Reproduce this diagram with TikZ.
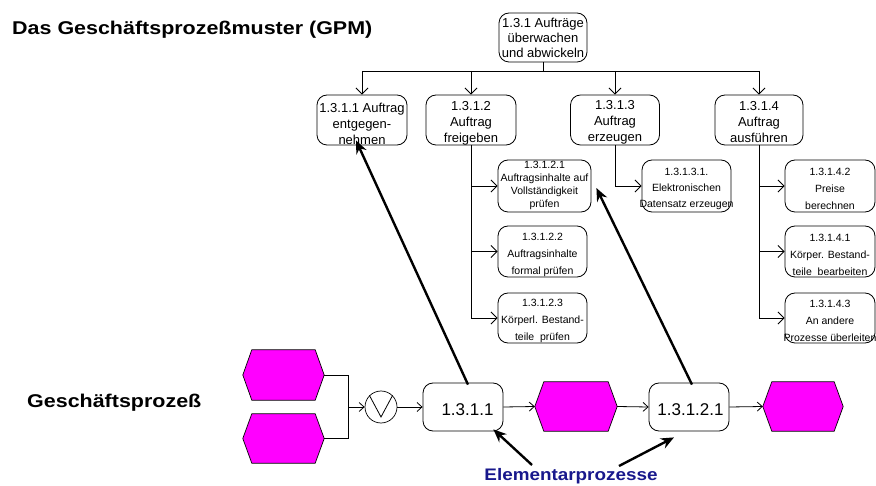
\documentclass[tikz,border=0pt]{standalone}
\usepackage{fontspec}
\setmainfont{Liberation Sans}
\newfontfamily\widesans[FakeStretch=1.16]{Liberation Sans}
\newfontfamily\widersans[FakeStretch=1.13]{Liberation Sans}
\usetikzlibrary{arrows.meta}
\definecolor{hexmagenta}{RGB}{255,0,255}
\definecolor{elemblue}{RGB}{24,24,140}

% elongated hexagon drawn over the anchors of an invisible node
\newcommand\drawhex[1]{%
  \filldraw[fill=hexmagenta, draw=black, line width=0.7pt]
    (#1.west) -- ([xshift=9pt]#1.north west) -- ([xshift=-9pt]#1.north east)
    -- (#1.east) -- ([xshift=-9pt]#1.south east) -- ([xshift=9pt]#1.south west) -- cycle;}

\tikzset{
  procbox/.style={draw=black, fill=white, rounded corners=10pt, line width=0.8pt, inner sep=0pt},
  maintxt/.style={font=\fontsize{13}{16}\selectfont, align=center, inner sep=0pt},
  subtxt/.style={font=\fontsize{10.5}{17}\selectfont, align=center, inner sep=0pt},
  bigtxt/.style={font=\fontsize{17}{20}\selectfont, inner sep=0pt},
  hexnode/.style={minimum width=81pt, minimum height=49pt, inner sep=0pt},
  tree/.style={line width=0.9pt},
  treearrow/.style={tree, -{Straight Barb[length=6pt,width=12pt]}},
  flow/.style={line width=0.8pt, draw=black},
  flowarrow/.style={flow, -{Straight Barb[length=5pt,width=9pt]}},
  bigarrow/.style={line width=2.4pt, -{Stealth[length=13pt,width=11pt]}},
  heading/.style={font=\widesans\bfseries\fontsize{18.5}{22}\selectfont, inner sep=0pt, anchor=base west},
}

\begin{document}
\begin{tikzpicture}[x=1pt, y=-1pt]
\useasboundingbox (0,0) rectangle (876,486);

% headings
\node[heading] (title) at (12,35) {Das Geschäftsprozeßmuster (GPM)};
\node[heading] (gp) at (27,407) {Geschäftsprozeß};

% process tree
\node[procbox, minimum width=88pt, minimum height=49pt] (top) at (543,37.5) {};
\node[procbox, minimum width=90pt, minimum height=50pt] (c1) at (362,120) {};
\node[procbox, minimum width=90pt, minimum height=50pt] (c2) at (471,120) {};
\node[procbox, minimum width=89pt, minimum height=50pt] (c3) at (615,120) {};
\node[procbox, minimum width=88pt, minimum height=50pt] (c4) at (759,120) {};

\node[procbox, minimum width=93pt, minimum height=52pt] (s21) at (544.5,186) {};
\node[procbox, minimum width=89pt, minimum height=51pt] (s22) at (542.5,251.5) {};
\node[procbox, minimum width=89pt, minimum height=50pt] (s23) at (542.5,318) {};
\node[procbox, minimum width=89pt, minimum height=52pt] (s31) at (686.5,186) {};
\node[procbox, minimum width=90pt, minimum height=52pt] (s42) at (830,186) {};
\node[procbox, minimum width=90pt, minimum height=51pt] (s41) at (830,251.5) {};
\node[procbox, minimum width=90pt, minimum height=50pt] (s43) at (830,318) {};

% tree connectors
\coordinate (bar) at (543,71);
\draw[tree] (top.south) -- (bar);
\draw[tree] (c1.north |- bar) -- (c4.north |- bar);
\foreach \c in {c1,c2,c3,c4} \draw[treearrow] (\c.north |- bar) -- (\c.north);
\draw[treearrow] (c2.south) |- (s21.west);
\draw[treearrow] (c2.south) |- (s22.west);
\draw[treearrow] (c2.south) |- (s23.west);
\draw[treearrow] (c3.south) |- (s31.west);
\draw[treearrow] (c4.south) |- (s42.west);
\draw[treearrow] (c4.south) |- (s41.west);
\draw[treearrow] (c4.south) |- (s43.west);

% box texts
\node[maintxt, font=\fontsize{13}{15}\selectfont] (topt) at (top.center) {1.3.1 Aufträge\\überwachen\\und abwickeln};
\node[maintxt] (c1t) at ([yshift=-4pt]c1.center) {1.3.1.1 Auftrag\\entgegen-\\nehmen};
\node[maintxt] (c2t) at ([yshift=-3pt]c2.center) {1.3.1.2\\Auftrag\\freigeben};
\node[maintxt] (c3t) at ([yshift=-2pt]c3.center) {1.3.1.3\\Auftrag\\erzeugen};
\node[maintxt] (c4t) at ([yshift=-2pt]c4.center) {1.3.1.4\\Auftrag\\ausführen};

\node[subtxt, font=\fontsize{10.5}{13}\selectfont] (s21t) at ([yshift=1pt]s21.center) {1.3.1.2.1\\Auftragsinhalte auf\\Vollständigkeit\\prüfen};
\node[subtxt] (s22t) at ([yshift=-3pt]s22.center) {1.3.1.2.2\\Auftragsinhalte\\formal prüfen};
\node[subtxt] (s23t) at ([yshift=-3pt]s23.center) {1.3.1.2.3\\Körperl. Bestand-\\teile\ \ prüfen};
\node[subtxt, font=\fontsize{10.5}{16}\selectfont] (s31t) at ([yshift=-3pt]s31.center) {1.3.1.3.1.\\Elektronischen\\Datensatz erzeugen};
\node[subtxt] (s42t) at ([yshift=-3pt]s42.center) {1.3.1.4.2\\Preise\\berechnen};
\node[subtxt] (s41t) at ([yshift=-3pt]s41.center) {1.3.1.4.1\\Körper. Bestand-\\teile\ \ bearbeiten};
\node[subtxt] (s43t) at ([yshift=-3pt]s43.center) {1.3.1.4.3\\An andere\\Prozesse überleiten};

% business process chain
\node[hexnode, minimum height=50pt] (h1) at (283.5,375) {};
\node[hexnode] (h2) at (283.5,438.5) {};
\node[draw=black, circle, minimum size=32pt, inner sep=0pt, line width=0.7pt] (or) at (381,407) {};
\node[procbox, minimum width=80pt, minimum height=48pt] (b1) at (463,407) {};
\node[hexnode, minimum width=82pt] (h3) at (576,406.5) {};
\node[procbox, minimum width=80pt, minimum height=48pt] (b2) at (689,407) {};
\node[hexnode, minimum width=80pt] (h4) at (803,406.5) {};
\drawhex{h1}
\drawhex{h2}
\drawhex{h3}
\drawhex{h4}
\draw[line width=0.8pt] (or.north west) -- ([yshift=-10pt]or.center) -- (or.north east);

\node[bigtxt] (b1t) at ([xshift=4.5pt,yshift=-3pt]b1.center) {1.3.1.1};
\node[bigtxt] (b2t) at ([xshift=1.5pt,yshift=-3pt]b2.center) {1.3.1.2.1};

\coordinate (join) at (348,407);
\draw[flow] (h1.east) -| (join);
\draw[flow] (h2.east) -| (join);
\draw[flowarrow] (join) -- (or.west);
\draw[flowarrow] (or.east) -- (b1.west);
\draw[flowarrow] (b1.east) -- (h3.west);
\draw[flowarrow] (h3.east) -- (b2.west);
\draw[flowarrow] (b2.east) -- (h4.west);

% links from the elementary processes to the pattern
\draw[bigarrow] ([xshift=5pt,yshift=-2pt]b1.north) -- ([xshift=-6pt,yshift=5pt]c1.south);
\draw[bigarrow] ([xshift=3pt,yshift=-2pt]b2.north) -- ([xshift=5pt,yshift=-2pt]s21.east);

% label for the elementary processes
\node[font=\widersans\bfseries\fontsize{16.7}{20}\selectfont, text=elemblue, inner sep=0pt, anchor=base] (elem) at (571,480) {Elementarprozesse};
\coordinate (t1) at (532,465);
\coordinate (t2) at (619,466);
\draw[bigarrow] (t1) -- ([xshift=-10pt,yshift=2pt]b1.south east);
\draw[bigarrow] (t2) -- ([xshift=-15pt,yshift=-6pt]b2.south);
\end{tikzpicture}
\end{document}
